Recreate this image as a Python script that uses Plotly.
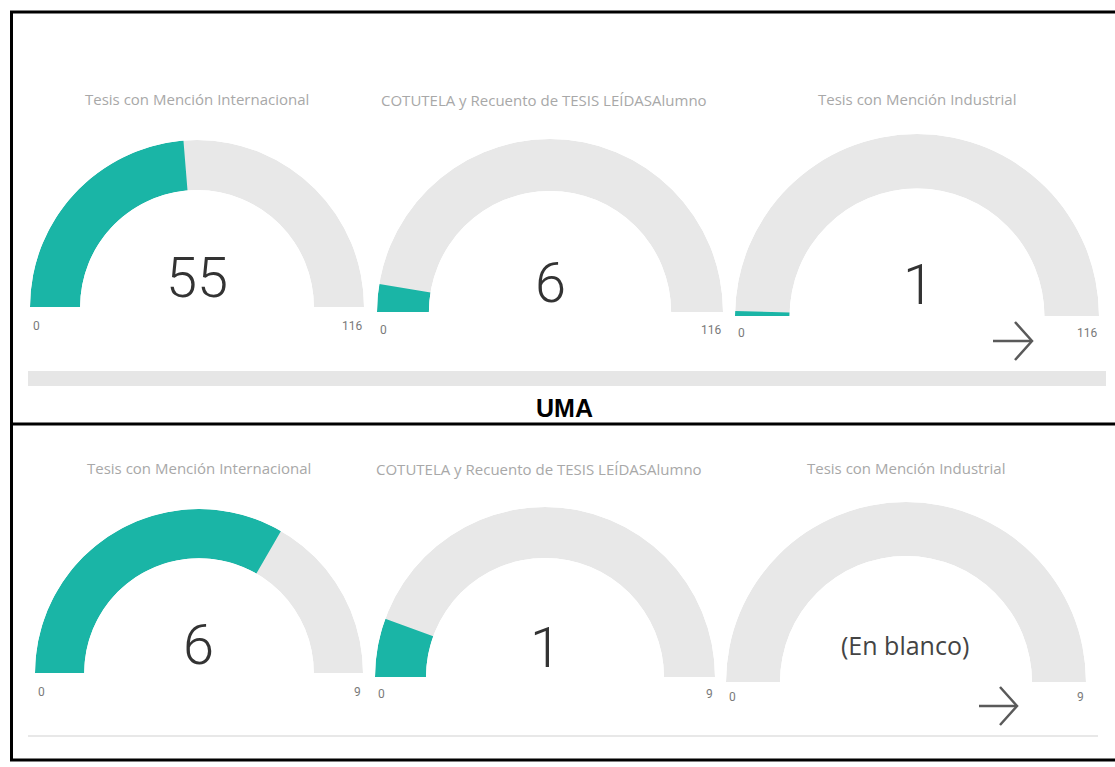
"""Power BI style gauge dashboard (UMA vs. second institution) rebuilt with Plotly."""
import plotly.graph_objects as go

W, H = 1115, 767

# ---- data -------------------------------------------------------------
gauge_titles = [
    "Tesis con Mención Internacional",
    "COTUTELA y Recuento de TESIS LEÍDASAlumno",
    "Tesis con Mención Industrial",
]
top_values = [55, 6, 1]
top_max = 116
top_labels = ["55", "6", "1"]

bottom_values = [6, 1, 0]
bottom_max = 9
bottom_labels = ["6", "1", "(En blanco)"]

panel_label = "UMA"

# ---- geometry (pixels): centre x, base y, outer radius, title xy, number xy, tick y
TOP_GEOM = [
    dict(cx=197, cy=307, r=167, tx=197, ty=99, nx=197, ny=278, ky=326),
    dict(cx=550, cy=312, r=173, tx=544, ty=100, nx=550, ny=283, ky=330),
    dict(cx=917, cy=316, r=182, tx=917, ty=99, nx=918, ny=285, ky=333),
]
BOTTOM_GEOM = [
    dict(cx=199, cy=673, r=164, tx=199, ty=468, nx=198, ny=645, ky=692),
    dict(cx=545, cy=677, r=170, tx=539, ty=469, nx=545, ny=648, ky=694),
    dict(cx=906, cy=682, r=180, tx=906, ty=468, nx=905, ny=645, ky=697),
]

TEAL = "#1AB5A6"
TRACK = "#E8E8E8"
HOLE = 0.70


def px_x(x):
    return x / W


def px_y(y):
    return 1 - y / H


fig = go.Figure()
annotations = []
polars = {}


def add_gauge(idx, value, vmax, label, title, g):
    name = "polar" if idx == 1 else f"polar{idx}"
    frac = value / vmax
    # track
    fig.add_trace(go.Barpolar(
        r=[1], theta=[90], width=[180], marker=dict(color=TRACK, line=dict(width=0)),
        subplot=name, showlegend=False, hoverinfo="skip",
    ))
    # value arc
    fig.add_trace(go.Barpolar(
        r=[1], theta=[frac * 90], width=[frac * 180],
        marker=dict(color=TEAL, line=dict(width=0)),
        subplot=name, showlegend=False, name=title,
        hovertemplate=f"{title}: {value}<extra></extra>",
    ))
    polars[name] = dict(
        domain=dict(
            x=[px_x(g["cx"] - g["r"]), px_x(g["cx"] + g["r"])],
            y=[px_y(g["cy"]), px_y(g["cy"] - g["r"])],
        ),
        sector=[0, 180],
        hole=HOLE,
        bgcolor="rgba(0,0,0,0)",
        radialaxis=dict(visible=False, range=[0, 1]),
        angularaxis=dict(visible=False, direction="clockwise", rotation=180),
    )
    annotations.append(dict(
        x=px_x(g["tx"]), y=px_y(g["ty"]), text=title, showarrow=False,
        font=dict(family="Open Sans, sans-serif", size=15, color="#A8A8A8"),
        xanchor="center", yanchor="middle",
    ))
    is_blank = not label[0].isdigit()
    annotations.append(dict(
        x=px_x(g["nx"]), y=px_y(g["ny"]), text=label, showarrow=False,
        font=dict(
            family="Open Sans, sans-serif" if is_blank else "Roboto Light, Roboto, sans-serif",
            size=25 if is_blank else 56, color="#444444" if is_blank else "#333333",
            weight=400 if is_blank else 300,
        ),
        xanchor="center", yanchor="middle",
    ))
    for val, xx, anchor in ((0, g["cx"] - g["r"] + 1, "left"), (vmax, g["cx"] + g["r"], "right")):
        annotations.append(dict(
            x=px_x(xx), y=px_y(g["ky"]), text=str(val), showarrow=False,
            font=dict(family="Roboto, sans-serif", size=12, color="#7A7A7A"),
            xanchor=anchor, yanchor="middle",
        ))


i = 1
for v, lab, t, g in zip(top_values, top_labels, gauge_titles, TOP_GEOM):
    add_gauge(i, v, top_max, lab, t, g)
    i += 1
for v, lab, t, g in zip(bottom_values, bottom_labels, gauge_titles, BOTTOM_GEOM):
    add_gauge(i, v, bottom_max, lab, t, g)
    i += 1

annotations.append(dict(
    x=px_x(564), y=px_y(408), text=f"<b>{panel_label}</b>", showarrow=False,
    font=dict(family="Liberation Sans, Arial, sans-serif", size=25, color="#000000"),
    xanchor="center", yanchor="middle",
))

shapes = []


def rect(x0, y0, x1, y1, color):
    shapes.append(dict(type="rect", xref="paper", yref="paper",
                       x0=px_x(x0), x1=px_x(x1), y0=px_y(y1), y1=px_y(y0),
                       fillcolor=color, line=dict(width=0), layer="below"))


def line(x0, y0, x1, y1, color, w):
    shapes.append(dict(type="line", xref="paper", yref="paper",
                       x0=px_x(x0), x1=px_x(x1), y0=px_y(y0), y1=px_y(y1),
                       line=dict(color=color, width=w)))


def arrow(x0, x1, y, color):
    line(x0, y, x1, y, color, 2.5)
    path = (f"M {px_x(x1 - 17)},{px_y(y - 19)} L {px_x(x1)},{px_y(y)} "
            f"L {px_x(x1 - 17)},{px_y(y + 19)}")
    shapes.append(dict(type="path", xref="paper", yref="paper", path=path,
                       line=dict(color=color, width=2.5)))


# scroll bar / separator strips
rect(28, 371, 1106, 386, "#E6E6E6")
rect(28, 735, 1098, 737, "#E8E8E8")

# navigation arrows
arrow(993, 1032, 341, "#5A5A5A")
arrow(979, 1017, 706, "#5A5A5A")

# black frame
line(10, 12, W + 2, 12, "#000000", 3)
line(11.5, 11, 11.5, 761, "#000000", 3)
line(10, 424, W + 2, 424, "#000000", 3)
line(10, 760, W + 2, 760, "#000000", 3)

fig.update_layout(
    width=W, height=H,
    margin=dict(l=0, r=0, t=0, b=0),
    paper_bgcolor="white", plot_bgcolor="white",
    annotations=annotations, shapes=shapes,
    showlegend=False,
    **polars,
)

# drop the browser's default 8px body margin so the page lines up with the window
fig.write_html(
    "out.html",
    config={"displayModeBar": False},
    post_script="document.body.style.margin='0';",
)
